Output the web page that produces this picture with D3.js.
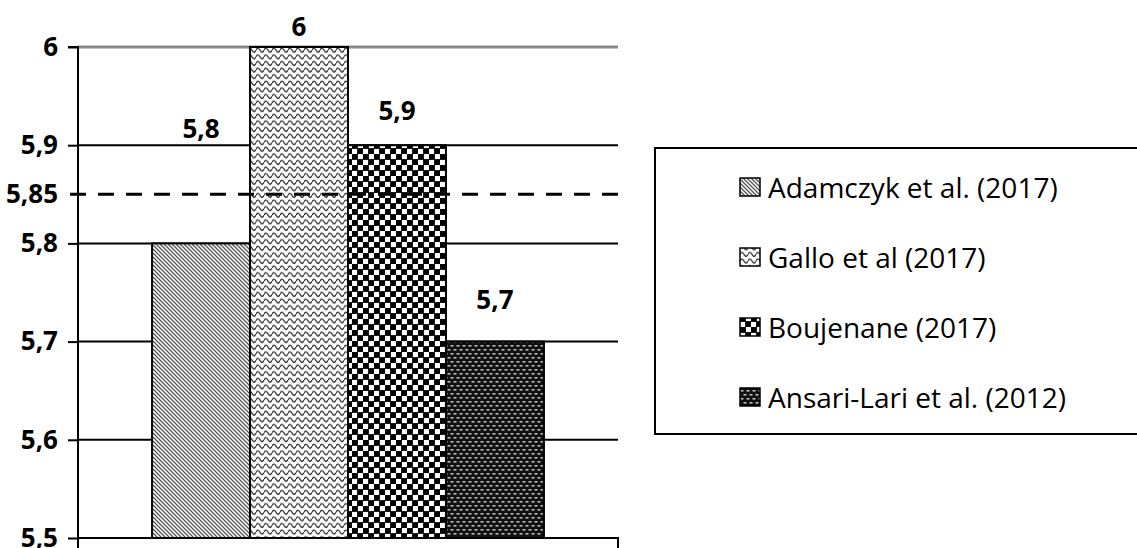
<!DOCTYPE html>
<html>
<head>
<meta charset="utf-8">
<script src="https://cdn.jsdelivr.net/npm/d3@7"></script>
<style>
  html, body { margin: 0; padding: 0; background: #fff; }
  svg { display: block; }
  text { font-family: "Open Sans", "Liberation Sans", sans-serif; fill: #000; }
</style>
</head>
<body>
<svg id="chart" width="1137" height="548"></svg>
<script>
// Studies and their reported values
const studies = ["Adamczyk et al. (2017)", "Gallo et al (2017)", "Boujenane (2017)", "Ansari-Lari et al. (2012)"];
const values = [5.8, 6.0, 5.9, 5.7];
const yTicks = [5.5, 5.6, 5.7, 5.8, 5.9, 6.0];
const referenceValue = 5.85;
const patternIds = ["pat-diag", "pat-wave", "pat-check", "pat-dots"];
// vertical offsets of each value label above its bar top
const labelLift = [115, 21, 35, 43];

const svg = d3.select("#chart");
const margin = { left: 78, right: 618, top: 47, bottom: 538 };
const labelSize = 26;

const fmt = v => d3.format(".2~f")(v).replace(".", ",");

// ---------- fill patterns ----------
const defs = svg.append("defs");

// dense backward diagonal stripes
const p1 = defs.append("pattern").attr("id", "pat-diag").attr("patternUnits", "userSpaceOnUse")
  .attr("width", 4).attr("height", 4);
p1.append("rect").attr("width", 4).attr("height", 4).attr("fill", "#fff");
p1.append("path").attr("d", "M-1,-1 L5,5 M-1,3 L1,5 M3,-1 L5,1")
  .attr("stroke", "#555").attr("stroke-width", 1.3);

// wave lines
const p2 = defs.append("pattern").attr("id", "pat-wave").attr("patternUnits", "userSpaceOnUse")
  .attr("width", 8).attr("height", 6.6);
p2.append("rect").attr("width", 8).attr("height", 6.6).attr("fill", "#fff");
p2.append("path").attr("d", "M0,4 Q2,0 4,4 T8,4")
  .attr("fill", "none").attr("stroke", "#333").attr("stroke-width", 1.4);

// checkerboard
const cs = 5.5;
const p3 = defs.append("pattern").attr("id", "pat-check").attr("patternUnits", "userSpaceOnUse")
  .attr("width", cs * 2).attr("height", cs * 2);
p3.append("rect").attr("width", cs * 2).attr("height", cs * 2).attr("fill", "#fff");
p3.append("rect").attr("x", -0.4).attr("y", -0.4).attr("width", cs + 0.8).attr("height", cs + 0.8).attr("fill", "#000");
p3.append("rect").attr("x", cs - 0.4).attr("y", cs - 0.4).attr("width", cs + 0.8).attr("height", cs + 0.8).attr("fill", "#000");

// dark fill with small light dashes
const p4 = defs.append("pattern").attr("id", "pat-dots").attr("patternUnits", "userSpaceOnUse")
  .attr("width", 6).attr("height", 8);
p4.append("rect").attr("width", 6).attr("height", 8).attr("fill", "#111");
p4.append("rect").attr("x", 0.5).attr("y", 1).attr("width", 3).attr("height", 1.6).attr("fill", "#bbb");
p4.append("rect").attr("x", 3.5).attr("y", 5).attr("width", 3).attr("height", 1.6).attr("fill", "#bbb");
p4.append("rect").attr("x", -2.5).attr("y", 5).attr("width", 3).attr("height", 1.6).attr("fill", "#bbb");

// ---------- scales ----------
const y = d3.scaleLinear().domain([5.5, 6.0]).range([margin.bottom, margin.top]);
const xCat = d3.scaleBand().domain(["all"]).range([margin.left, margin.right])
  .paddingInner(0).paddingOuter(0.189);
const xSer = d3.scaleBand().domain(studies).range([0, xCat.bandwidth()]).padding(0);

// ---------- gridlines ----------
svg.append("g").selectAll("line").data(yTicks.filter(t => t > 5.5)).join("line")
  .attr("x1", margin.left).attr("x2", margin.right)
  .attr("y1", d => y(d)).attr("y2", d => y(d))
  .attr("stroke", d => d === 6.0 ? "#888" : "#000")
  .attr("stroke-width", d => d === 6.0 ? 3 : 2);

// ---------- bars ----------
const x0 = xCat("all");
svg.append("g").selectAll("rect").data(values).join("rect")
  .attr("x", (d, i) => x0 + xSer(studies[i]))
  .attr("width", xSer.bandwidth())
  .attr("y", d => y(d))
  .attr("height", d => y(5.5) - y(d))
  .attr("fill", (d, i) => `url(#${patternIds[i]})`)
  .attr("stroke", "#000").attr("stroke-width", 2);

// ---------- reference line ----------
svg.append("line")
  .attr("x1", margin.left - 8).attr("x2", margin.right)
  .attr("y1", y(referenceValue)).attr("y2", y(referenceValue))
  .attr("stroke", "#000").attr("stroke-width", 3)
  .attr("stroke-dasharray", "16,12");

// ---------- axes ----------
const yAxis = d3.axisLeft(y).tickValues(yTicks.concat([referenceValue]))
  .tickFormat(fmt).tickSize(10).tickPadding(10);
const gy = svg.append("g").attr("transform", `translate(${margin.left},0)`).call(yAxis);
gy.select(".domain").attr("stroke", "#000").attr("stroke-width", 2).attr("d", `M-10,${margin.top}H0V${margin.bottom}`);
gy.selectAll(".tick line").attr("stroke", "#000").attr("stroke-width", 2);
gy.selectAll(".tick").filter(d => d === referenceValue).select("line").remove();
gy.selectAll(".tick text").attr("font-size", labelSize).attr("font-weight", "bold")
  .style("font-family", "'Open Sans', sans-serif");

const xAxis = d3.axisBottom(xCat).tickSize(0).tickFormat("");
const gx = svg.append("g").attr("transform", `translate(0,${margin.bottom})`).call(xAxis);
gx.select(".domain").attr("stroke", "#000").attr("stroke-width", 2)
  .attr("d", `M${margin.left},10V0H${margin.right}V10`);

// ---------- value labels ----------
svg.append("g").selectAll("text").data(values).join("text")
  .attr("x", (d, i) => x0 + xSer(studies[i]) + xSer.bandwidth() / 2)
  .attr("y", (d, i) => y(d) - labelLift[i])
  .attr("text-anchor", "middle").attr("dominant-baseline", "central")
  .attr("font-size", labelSize).attr("font-weight", "bold")
  .text(d => fmt(d));

// ---------- legend ----------
const lg = svg.append("g");
lg.append("rect").attr("x", 655).attr("y", 148).attr("width", 520).attr("height", 286)
  .attr("fill", "#fff").attr("stroke", "#000").attr("stroke-width", 2);
const rows = lg.selectAll("g.item").data(studies).join("g").attr("class", "item")
  .attr("transform", (d, i) => `translate(740,${187 + i * 70})`);
rows.append("rect").attr("x", 0).attr("y", -9).attr("width", 20).attr("height", 18)
  .attr("fill", (d, i) => `url(#${patternIds[i]})`).attr("stroke", "#000").attr("stroke-width", 1.5);
rows.append("text").attr("x", 28).attr("y", 0).attr("dominant-baseline", "central")
  .attr("font-size", 28).text(d => d);
</script>
</body>
</html>
